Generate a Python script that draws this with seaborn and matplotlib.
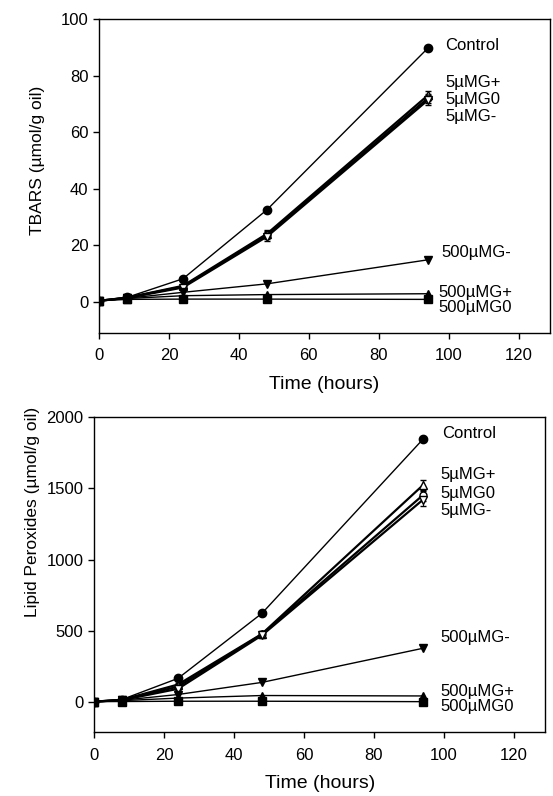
import matplotlib
matplotlib.use("Agg")
import matplotlib.pyplot as plt
import seaborn as sns
import numpy as np
import pandas as pd

# sampling times (hours)
hours = [0, 8, 24, 48, 94]

series_names = ["Control", "5µMG+", "5µMG0", "5µMG-", "500µMG-", "500µMG+", "500µMG0"]

# TBARS (umol/g oil)
tbars_control = [0.3, 1.5, 8.1, 32.5, 89.7]
tbars_5g_plus = [0.3, 1.4, 5.6, 24.0, 73.0]
tbars_5g_zero = [0.3, 1.4, 5.3, 23.5, 72.0]
tbars_5g_minus = [0.3, 1.3, 5.0, 23.0, 71.3]
tbars_500g_minus = [0.3, 1.2, 3.3, 6.3, 14.8]
tbars_500g_plus = [0.3, 1.1, 2.1, 2.5, 2.8]
tbars_500g_zero = [0.3, 0.8, 0.9, 0.9, 0.8]
tbars_err_5g = [0, 0, 0.6, 1.5, 1.6]

# Lipid peroxides (umol/g oil)
lp_control = [5, 20, 168, 624, 1844]
lp_5g_plus = [5, 18, 125, 480, 1522]
lp_5g_zero = [5, 17, 110, 477, 1452]
lp_5g_minus = [5, 16, 95, 470, 1420]
lp_500g_minus = [5, 15, 55, 140, 379]
lp_500g_plus = [5, 12, 30, 48, 45]
lp_500g_zero = [5, 6, 8, 8, 5]
lp_err_5g = [0, 0, 10, 20, 40]

# label positions next to the last point (hours, value)
tbars_label_x = [99, 99, 99, 99, 98, 97, 97]
tbars_label_y = [90.8, 77.7, 71.7, 65.4, 17.3, 3.2, -2.1]
lp_label_x = [99.5, 99, 99, 99, 99, 99, 99]
lp_label_y = [1886, 1599, 1466, 1346, 456, 77, -28]

styles = {
    "Control": dict(marker="o", mfc="black", ms=6, lw=1.0),
    "5µMG+": dict(marker="^", mfc="white", ms=6, lw=1.6),
    "5µMG0": dict(marker="o", mfc="white", ms=5, lw=1.6),
    "5µMG-": dict(marker="v", mfc="white", ms=6, lw=1.6),
    "500µMG-": dict(marker="v", mfc="black", ms=6, lw=1.0),
    "500µMG+": dict(marker="^", mfc="black", ms=6, lw=1.0),
    "500µMG0": dict(marker="s", mfc="black", ms=6, lw=1.0),
}

sns.set_style("ticks")
plt.rcParams["font.family"] = ["Liberation Sans", "DejaVu Sans"]
plt.rcParams.update({"text.color": "black", "axes.labelcolor": "black",
                     "xtick.color": "black", "ytick.color": "black"})

tbars = pd.DataFrame({"hours": hours, "Control": tbars_control, "5µMG+": tbars_5g_plus,
                      "5µMG0": tbars_5g_zero, "5µMG-": tbars_5g_minus,
                      "500µMG-": tbars_500g_minus, "500µMG+": tbars_500g_plus,
                      "500µMG0": tbars_500g_zero})
lp = pd.DataFrame({"hours": hours, "Control": lp_control, "5µMG+": lp_5g_plus,
                   "5µMG0": lp_5g_zero, "5µMG-": lp_5g_minus,
                   "500µMG-": lp_500g_minus, "500µMG+": lp_500g_plus,
                   "500µMG0": lp_500g_zero})

fig = plt.figure(figsize=(5.53, 7.96), dpi=100)
ax1 = fig.add_axes([0.179, 0.582, 0.816, 0.394])
ax2 = fig.add_axes([0.170, 0.080, 0.816, 0.396])


def draw_panel(ax, df, err, label_x, label_y, ylim, yticks, ylabel, ylabel_pos):
    for name in series_names:
        st = styles[name]
        sns.lineplot(x="hours", y=name, data=df, ax=ax, color="black",
                     marker=st["marker"], markerfacecolor=st["mfc"],
                     markeredgecolor="black", markersize=st["ms"],
                     linewidth=st["lw"], markeredgewidth=1.0, zorder=3)
        if name.startswith("5µ"):
            ax.errorbar(df["hours"], df[name], yerr=err, fmt="none",
                        ecolor="black", elinewidth=0.8, capsize=2, zorder=2)
    for name, tx, ty in zip(series_names, label_x, label_y):
        ax.text(tx, ty, name, fontsize=12, va="center", ha="left")
    ax.set_xlim(0, 129)
    ax.set_ylim(*ylim)
    ax.set_xticks([0, 20, 40, 60, 80, 100, 120])
    ax.set_yticks(yticks)
    ax.set_xlabel("Time (hours)", fontsize=14, labelpad=9)
    ax.set_ylabel(ylabel, fontsize=12.5)
    ax.yaxis.set_label_coords(-0.12, ylabel_pos)
    ax.tick_params(axis="both", labelsize=12, length=4, direction="out", width=1)
    ax.tick_params(axis="x", pad=7)
    for sp in ax.spines.values():
        sp.set_visible(True)
        sp.set_linewidth(1.0)
        sp.set_color("black")


draw_panel(ax1, tbars, tbars_err_5g, tbars_label_x, tbars_label_y,
           (-11, 100), [0, 20, 40, 60, 80, 100], "TBARS (µmol/g oil)", 0.55)
draw_panel(ax2, lp, lp_err_5g, lp_label_x, lp_label_y,
           (-210, 2000), [0, 500, 1000, 1500, 2000], "Lipid Peroxides (µmol/g oil)", 0.70)

fig.savefig("out.png", dpi=100)
